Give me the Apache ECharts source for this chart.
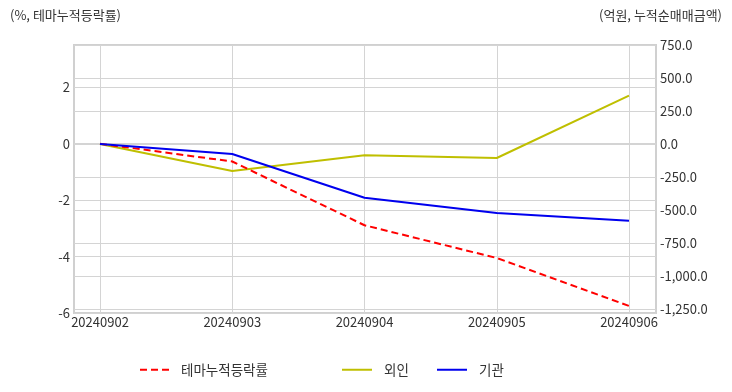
<!DOCTYPE html>
<html><head><meta charset="utf-8">
<script src="https://cdn.jsdelivr.net/npm/echarts@6/dist/echarts.min.js"></script>
<style>html,body{margin:0;padding:0;background:#fff}#c{width:732px;height:392px}</style>
</head><body><div id="c"></div>
<script>
const categories = ['20240902','20240903','20240904','20240905','20240906'];
const themeReturn = [0, -0.63, -2.89, -4.05, -5.75];
const foreign = [0, -204, -86, -106, 366];
const institution = [0, -76, -407, -523, -581];
const leftTicks = {min: -6, max: 3.5, interval: 2};
const rightTicks = {min: -1250, max: 750, interval: 250};
const seriesNames = ['테마누적등락률', '외인', '기관'];

const FONT = '"Noto Sans CJK KR", "Noto Sans", sans-serif';
const GRID_C = '#d4d4d4';
const chart = echarts.init(document.getElementById('c'));
const fmtR = v => v.toLocaleString('en-US', {minimumFractionDigits: 1, maximumFractionDigits: 1});
const legTxt = {fontFamily: FONT, fontSize: 13.5, color: '#333', padding: [0, 0, 0, 7]};
chart.setOption({
  animation: false,
  textStyle: {fontFamily: FONT},
  graphic: [
    {type: 'text', left: 10, top: 9, style: {text: '(%, 테마누적등락률)', fontFamily: FONT, fontSize: 13, fill: '#333'}},
    {type: 'text', right: 10, top: 9, style: {text: '(억원, 누적순매매금액)', fontFamily: FONT, fontSize: 13, fill: '#333'}}
  ],
  legend: [
    {left: 134, top: 358, itemWidth: 29, itemHeight: 12, data: [seriesNames[0]], textStyle: legTxt, itemStyle: {opacity: 0}},
    {left: 336, top: 358, itemWidth: 30, itemHeight: 12, data: [seriesNames[1]], textStyle: legTxt, itemStyle: {opacity: 0}},
    {left: 431, top: 358, itemWidth: 30, itemHeight: 12, data: [seriesNames[2]], textStyle: legTxt, itemStyle: {opacity: 0}}
  ],
  grid: [
    {left: 100, right: 103, top: 45, height: 268},
    {left: 100, right: 103, top: 45, height: 264},
    {left: 74, right: 76, top: 45, height: 268, show: true, borderColor: '#d0d0d0', borderWidth: 2, backgroundColor: 'transparent', z: 0},
    {left: 74, right: 76, top: 45, height: 264}
  ],
  xAxis: [
    {gridIndex: 0, type: 'category', data: categories, boundaryGap: false,
     axisLine: {show: false}, axisTick: {show: false},
     axisLabel: {color: '#333', fontSize: 13, margin: 3, fontFamily: FONT},
     splitLine: {show: true, lineStyle: {color: GRID_C, width: 1}}},
    {gridIndex: 1, type: 'category', data: categories, boundaryGap: false, show: false},
    {gridIndex: 2, type: 'value', show: false},
    {gridIndex: 3, type: 'value', show: false}
  ],
  yAxis: [
    {gridIndex: 0, type: 'value', position: 'left', offset: 26, min: leftTicks.min, max: leftTicks.max, interval: leftTicks.interval,
     axisLine: {show: false}, axisTick: {show: false}, splitLine: {show: false},
     axisLabel: {color: '#333', fontSize: 13, margin: 4, showMaxLabel: false, fontFamily: FONT,
       formatter: v => (Math.abs(v - leftTicks.max) < 1e-9 ? '' : String(v))}},
    {gridIndex: 1, type: 'value', position: 'right', offset: 27, min: rightTicks.min, max: rightTicks.max, interval: rightTicks.interval,
     axisLine: {show: false}, axisTick: {show: false}, splitLine: {show: false},
     axisLabel: {color: '#333', fontSize: 13, margin: 4, fontFamily: FONT, formatter: v => fmtR(v)}},
    {gridIndex: 2, type: 'value', min: leftTicks.min, max: leftTicks.max, interval: leftTicks.interval,
     axisLine: {show: false}, axisTick: {show: false}, axisLabel: {show: false},
     splitLine: {show: true, lineStyle: {color: GRID_C, width: 1}}},
    {gridIndex: 3, type: 'value', min: rightTicks.min, max: rightTicks.max, interval: rightTicks.interval,
     axisLine: {show: false}, axisTick: {show: false}, axisLabel: {show: false},
     splitLine: {show: true, lineStyle: {color: GRID_C, width: 1}}}
  ],
  series: [
    {name: seriesNames[0], type: 'line', xAxisIndex: 0, yAxisIndex: 0, data: themeReturn, symbol: 'none', z: 3,
     itemStyle: {color: '#ff0000'}, lineStyle: {color: '#ff0000', width: 2, type: [7, 4]}},
    {name: seriesNames[1], type: 'line', xAxisIndex: 1, yAxisIndex: 1, data: foreign, symbol: 'none', z: 2,
     itemStyle: {color: '#bfbf00'}, lineStyle: {color: '#bfbf00', width: 2}},
    {name: seriesNames[2], type: 'line', xAxisIndex: 1, yAxisIndex: 1, data: institution, symbol: 'none', z: 4,
     itemStyle: {color: '#0000ee'}, lineStyle: {color: '#0000ee', width: 2}}
  ]
});
</script></body></html>
